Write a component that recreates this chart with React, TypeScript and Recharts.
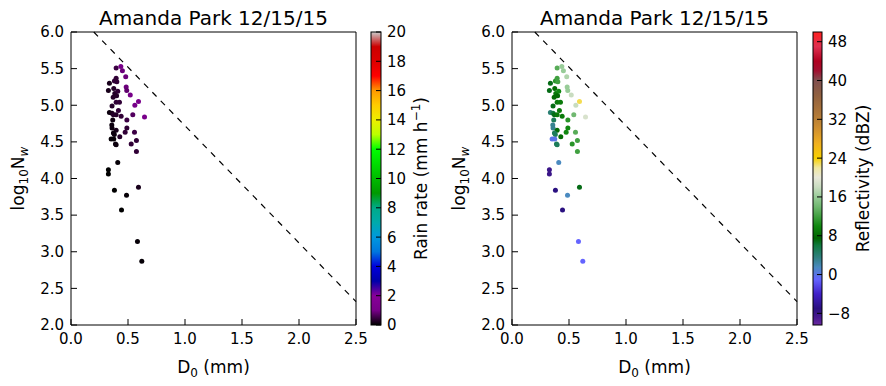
import React from 'react';
import { ScatterChart, Scatter, XAxis, YAxis, ReferenceLine } from 'recharts';

// median volume diameter (mm) and normalized intercept for each DSD sample
const d0 = [
  0.396, 0.437, 0.451, 0.48, 0.337, 0.381, 0.396, 0.402, 0.484, 0.489, 0.328, 0.375, 0.384, 0.41, 0.4,
  0.37, 0.52, 0.396, 0.425, 0.592, 0.56, 0.36, 0.416, 0.337, 0.36, 0.372, 0.396, 0.44, 0.542, 0.645,
  0.49, 0.366, 0.358, 0.36, 0.396, 0.49, 0.372, 0.475, 0.557, 0.38, 0.352, 0.375, 0.428, 0.39, 0.396,
  0.528, 0.574, 0.574, 0.41, 0.328, 0.328, 0.381, 0.487, 0.592, 0.443, 0.583, 0.621,
];
const logNw = [
  5.51, 5.53, 5.47, 5.39, 5.3, 5.33, 5.37, 5.32, 5.25, 5.2, 5.2, 5.23, 5.16, 5.19, 5.13,
  5.11, 5.14, 5.04, 5.04, 5.05, 5.0, 4.99, 4.93, 4.9, 4.89, 4.87, 4.87, 4.85, 4.87, 4.84,
  4.8, 4.8, 4.73, 4.69, 4.66, 4.69, 4.62, 4.63, 4.63, 4.6, 4.54, 4.54, 4.57, 4.47, 4.46,
  4.47, 4.52, 4.37, 4.22, 4.12, 4.06, 3.84, 3.77, 3.88, 3.57, 3.14, 2.87,
];
const rainRate = [
  0.5, 1.0, 0.9, 0.9, 0.2, 0.4, 0.4, 0.4, 0.9, 0.8, 0.2, 0.3, 0.3, 0.4, 0.3,
  0.3, 1.0, 0.4, 0.4, 1.2, 1.0, 0.3, 0.4, 0.1, 0.2, 0.3, 0.3, 0.4, 0.7, 1.1,
  0.5, 0.1, 0.1, 0.1, 0.2, 0.4, 0.1, 0.4, 0.5, 0.1, 0.05, 0.05, 0.3, 0.1, 0.1,
  0.4, 0.4, 0.4, 0.05, 0, 0, 0, 0.05, 0.2, 0, 0.05, 0.05,
];
const reflectivity = [
  13, 16, 16, 17, 7, 11, 12, 12, 16, 16, 7, 8, 9, 10, 8,
  8, 18, 9, 9, 23, 18, 7, 9, 4, 6, 7, 9, 9, 14, 19,
  11, 5, 3, 3, 8, 10, 5, 10, 13, 5, 0, 0, 8, 5, 5,
  11, 12, 12, 1.5, -8, -8, -7, 1.5, 7, -7, -1, -1,
];

const xTicks = [0, 0.5, 1, 1.5, 2, 2.5];
const yTicks = [2, 2.5, 3, 3.5, 4, 4.5, 5, 5.5, 6];
const guideLine = [{ x: 0.2, y: 6 }, { x: 2.5, y: 2.32 }];

const rainTicks = [0, 2, 4, 6, 8, 10, 12, 14, 16, 18, 20];
const rainRange = [0, 20];
const dbzTicks = [-8, 0, 8, 16, 24, 32, 40, 48];
const dbzRange = [-10.4, 50];

// nipy_spectral
const rainStops: [number, string][] = [
  [0, '#000000'], [0.05, '#770088'], [0.1, '#880099'], [0.15, '#0000aa'], [0.2, '#0000dd'],
  [0.25, '#0077dd'], [0.3, '#0099dd'], [0.35, '#00aaaa'], [0.4, '#00aa88'], [0.45, '#009900'],
  [0.5, '#00bb00'], [0.55, '#00dd00'], [0.6, '#00ff00'], [0.65, '#bbff00'], [0.7, '#eeee00'],
  [0.75, '#ffcc00'], [0.8, '#ff9900'], [0.85, '#ff0000'], [0.9, '#dd0000'], [0.95, '#cc0000'],
  [1, '#cccccc'],
];
const dbzStops: [number, string][] = [
  [-10.4, '#6a2aa0'], [-9, '#4a1a90'], [-7, '#2a1080'], [-4, '#4020c8'], [-1, '#6464ff'],
  [1.5, '#4a8ac0'], [3.5, '#308080'], [6, '#107a40'], [7.5, '#006400'], [10, '#108810'],
  [12, '#40a040'], [14, '#70b870'], [16, '#98cc98'], [18, '#c8dcc0'], [20, '#e8e8d8'],
  [22, '#f0e8a0'], [24, '#f8d000'], [27, '#f0b020'], [30, '#d09030'], [33, '#b07838'],
  [37, '#906040'], [40, '#805050'], [42, '#a01030'], [44, '#b00020'], [47, '#e03050'],
  [50, '#ff2020'],
];

const hexToRgb = (h: string) => [1, 3, 5].map((i) => parseInt(h.slice(i, i + 2), 16));

function colorAt(stops: [number, string][], v: number) {
  if (v <= stops[0][0]) return stops[0][1];
  for (let i = 1; i < stops.length; i++) {
    if (v <= stops[i][0]) {
      const [a, ca] = stops[i - 1];
      const [b, cb] = stops[i];
      const t = (v - a) / (b - a);
      const p = hexToRgb(ca);
      const q = hexToRgb(cb);
      return `rgb(${p.map((c, k) => Math.round(c + (q[k] - c) * t)).join(',')})`;
    }
  }
  return stops[stops.length - 1][1];
}

const points = d0.map((d, i) => ({ d0: d, nw: logNw[i], rr: rainRate[i], dbz: reflectivity[i] }));

const FONT = 'DejaVu Sans';
const tickStyle = { fill: '#000', fontSize: 15, fontFamily: FONT };

const PLOT_TOP = 32;
const PLOT_BOTTOM = 325;

const DsdPanel = ({ colorOf }: { colorOf: (p: any) => string }) => (
  <ScatterChart width={374} height={386} margin={{ top: 27, right: 14, bottom: 21, left: 31 }}>
    <XAxis
      type="number"
      dataKey="d0"
      domain={[0, 2.5]}
      ticks={xTicks}
      tickFormatter={(v) => v.toFixed(1)}
      tick={tickStyle}
      tickSize={-6}
      tickMargin={14}
      height={40}
      stroke="#000"
      interval={0}
    />
    <XAxis xAxisId="top" orientation="top" type="number" domain={[0, 2.5]} ticks={xTicks} tick={false} tickSize={-6} height={5} stroke="#000" />
    <YAxis
      type="number"
      dataKey="nw"
      domain={[2, 6]}
      ticks={yTicks}
      tickFormatter={(v) => v.toFixed(1)}
      tick={tickStyle}
      tickSize={-6}
      tickMargin={13}
      width={40}
      stroke="#000"
      interval={0}
    />
    <YAxis yAxisId="right" orientation="right" type="number" domain={[2, 6]} ticks={yTicks} tick={false} tickSize={-6} width={4} stroke="#000" />
    <ReferenceLine segment={guideLine} stroke="#000" strokeWidth={1.2} strokeDasharray="6 6" />
    <Scatter
      data={points}
      isAnimationActive={false}
      shape={(p: any) => <circle cx={p.cx} cy={p.cy} r={2.5} fill={colorOf(p.payload)} />}
    />
  </ScatterChart>
);

const Colorbar = ({ id, x, w, stops, range, ticks, fmt }: any) => {
  const [lo, hi] = range;
  const yOf = (v: number) => PLOT_BOTTOM - ((v - lo) / (hi - lo)) * (PLOT_BOTTOM - PLOT_TOP);
  return (
    <g>
      <defs>
        <linearGradient id={id} x1="0" y1="1" x2="0" y2="0">
          {stops.map(([v, c]: [number, string], i: number) => (
            <stop key={i} offset={(v - lo) / (hi - lo)} stopColor={c} />
          ))}
        </linearGradient>
      </defs>
      <rect x={x} y={PLOT_TOP} width={w} height={PLOT_BOTTOM - PLOT_TOP} fill={`url(#${id})`} stroke="#000" strokeWidth={1} />
      {ticks.map((t: number) => (
        <g key={t}>
          <line x1={x + w - 5} x2={x + w} y1={yOf(t)} y2={yOf(t)} stroke="#000" />
          <text x={x + w + 6} y={yOf(t)} dy="0.36em" fontSize={15} fontFamily={FONT}>
            {fmt(t)}
          </text>
        </g>
      ))}
    </g>
  );
};

const Labels = ({ dx }: { dx: number }) => (
  <g fontFamily={FONT} fill="#000">
    <text x={213.5 + dx} y={25} fontSize={20} textAnchor="middle">Amanda Park 12/15/15</text>
    <text x={213.5 + dx} y={373} fontSize={17} textAnchor="middle">
      D<tspan fontSize={12} dy={4}>0</tspan>
      <tspan dy={-4}> (mm)</tspan>
    </text>
    <text transform={`translate(${24 + dx},178.5) rotate(-90)`} fontSize={17} textAnchor="middle">
      log<tspan fontSize={12} dy={4}>10</tspan>
      <tspan dy={-4}>N</tspan>
      <tspan fontSize={12} dy={4} fontStyle="italic">w</tspan>
    </text>
  </g>
);

export default function App() {
  return (
    <div style={{ position: 'absolute', left: 0, top: 0, width: 886, height: 386, background: '#fff' }}>
      <div style={{ position: 'absolute', left: 0, top: 0 }}>
        <DsdPanel colorOf={(p) => colorAt(rainStops, p.rr / rainRange[1])} />
      </div>
      <div style={{ position: 'absolute', left: 441, top: 0 }}>
        <DsdPanel colorOf={(p) => colorAt(dbzStops, p.dbz)} />
      </div>
      <svg width={886} height={386} style={{ position: 'absolute', left: 0, top: 0, pointerEvents: 'none' }}>
        <Labels dx={0} />
        <Labels dx={441} />
        <Colorbar
          id="rr"
          x={371}
          w={10}
          stops={rainStops.map(([f, c]) => [f * rainRange[1], c])}
          range={rainRange}
          ticks={rainTicks}
          fmt={(t: number) => String(t)}
        />
        <Colorbar id="dbz" x={813} w={9} stops={dbzStops} range={dbzRange} ticks={dbzTicks} fmt={(t: number) => (t < 0 ? `\u2212${-t}` : String(t))} />
        <g fontFamily={FONT} fontSize={17}>
          <text transform="translate(427,178.5) rotate(-90)" textAnchor="middle">
            Rain rate (mm h<tspan fontSize={12} dy={-7}>−1</tspan>
            <tspan dy={7}>)</tspan>
          </text>
          <text transform="translate(869,178.5) rotate(-90)" textAnchor="middle">Reflectivity (dBZ)</text>
        </g>
      </svg>
    </div>
  );
}
